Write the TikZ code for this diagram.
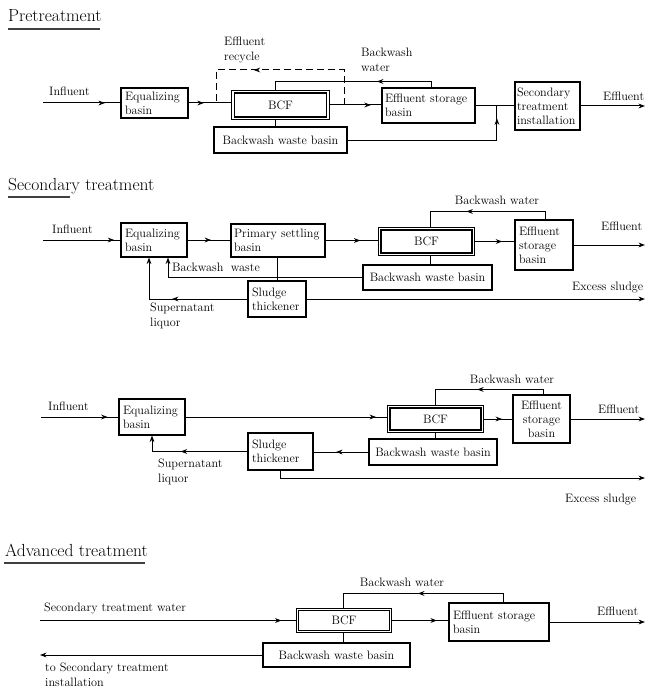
\documentclass[tikz,border=0pt]{standalone}
\usepackage{fontspec}
\usetikzlibrary{arrows.meta,decorations.markings,calc}
\begin{document}
\begin{tikzpicture}[x=1pt,y=-1pt,
  lab1/.style={font=\fontsize{12.2}{14.5}\selectfont, inner sep=0pt},
  labm/.style={lab1, align=left, anchor=north west},
  ttl/.style={font=\fontsize{17.5}{20}\selectfont, inner sep=0pt, anchor=base west},
  box/.style={draw, line width=1.1pt, font=\fontsize{12.2}{14}\selectfont, inner xsep=4pt, inner ysep=2pt},
  lbox/.style={box, align=left},
  bcfbox/.style={draw, double=white, double distance=1.4pt, line width=1.1pt, font=\fontsize{12.2}{14}\selectfont, inner sep=0pt},
  ln/.style={line width=1pt},
  arr/.style={ln, postaction={decorate}, decoration={markings, mark=at position #1 with {\arrow{Stealth[length=6.5pt,width=4.8pt]}}}},
  endarr/.style={ln, -{Stealth[length=6.5pt,width=4.8pt]}},
  uline/.style={line width=1.6pt, black!75},
  dsh/.style={dash pattern=on 7pt off 4pt}
]
\useasboundingbox (0,0) rectangle (648,690);

% ---------------- Pretreatment ----------------
\node[ttl] (t1) at (8,22) {Pretreatment};
\draw[uline] (8,29) -- (100,29);

\node[lbox, text width=59pt, minimum width=67pt, minimum height=30pt] (eq1) at (154.5,103) {Equalizing\\basin};
\node[bcfbox, minimum width=95pt, minimum height=26.5pt] (bcf1) at (280.5,105) {BCF};
\node[box, minimum width=133pt, minimum height=26pt] (bw1) at (280.5,140) {Backwash waste basin};
\node[lbox, inner xsep=3pt, text width=87pt, minimum width=93pt, minimum height=35pt] (st1) at (428.5,105.5) {Effluent storage\\basin};
\node[lbox, inner xsep=2pt, text width=61pt, minimum width=65pt, minimum height=48pt] (sec1) at (547.5,106) {Secondary\\treatment\\installation};

\coordinate (in1) at (43,103);
\draw[arr=0.8] (in1) -- (in1 -| eq1.west);
\draw[arr=0.35] (eq1.east) -- (eq1.east -| bcf1.west);
\coordinate (r1) at (216,103);
\coordinate (r2) at ($(bcf1.east)!0.3!(bcf1.east -| st1.west)$);
\draw[arr=0.64, dsh] (r2) -- ++(0,-35) -| (r1);
\draw[arr=0.35] ($(st1.north)+(2.5,0)$) -- ++(0,-6) -| ($(bcf1.north)+(-5.5,0)$);
\coordinate (c1) at ($(bcf1.south)+(-5.5,0)$);
\draw[ln] (c1) -- (c1 |- bw1.north);
\draw[arr=0.8] (bcf1.east) -- (bcf1.east -| st1.west);
\coordinate (j2) at ($(st1.east)!0.55!(st1.east -| sec1.west)$);
\draw[ln] (st1.east) -- (st1.east -| sec1.west);
\draw[arr=0.93] (bw1.east) -| (j2);
\coordinate (out1) at (645,106);
\draw[endarr] (sec1.east) -- (sec1.east -| out1);

\node[lab1, anchor=base west] (l1a) at (49,96) {Influent};
\node[labm] (l1b) at (224,37) {Effluent\\recycle};
\node[labm] (l1c) at (361,48) {Backwash\\water};
\node[lab1, anchor=base west] (l1d) at (603,101) {Effluent};

% ---------------- Secondary treatment ----------------
\node[ttl] (t2) at (8,190) {Secondary treatment};
\draw[uline] (8,197) -- (70,197);

\node[lbox, text width=58pt, minimum width=66pt, minimum height=34pt] (eq2) at (154,240) {Equalizing\\basin};
\node[lbox, inner xsep=3pt, text width=88pt, minimum width=94pt, minimum height=33pt] (ps2) at (278,240.5) {Primary settling\\basin};
\node[bcfbox, minimum width=93.5pt, minimum height=25.5pt] (bcf2) at (426.5,241.5) {BCF};
\node[box, minimum width=129pt, minimum height=25pt] (bw2) at (427.5,277.5) {Backwash waste basin};
\node[lbox, text width=50pt, minimum width=58pt, minimum height=50pt] (st2) at (544,245) {Effluent\\storage\\basin};
\node[lbox, text width=50pt, minimum width=58pt, minimum height=36pt] (sl2) at (277,299) {Sludge\\thickener};

\coordinate (in2) at (43,240);
\draw[arr=0.92] (in2) -- (in2 -| eq2.west);
\draw[arr=0.55] (eq2.east) -- (eq2.east -| ps2.west);
\draw[arr=0.65] (ps2.east) -- (ps2.east -| bcf2.west);
\draw[arr=0.7] (bcf2.east) -- (bcf2.east -| st2.west);
\draw[arr=0.62] ($(st2.north)+(1,0)$) -- ++(0,-8) -| ($(bcf2.north)+(3.5,0)$);
\coordinate (c2) at ($(bcf2.south)+(3.5,0)$);
\draw[ln] (c2) -- (c2 |- bw2.north);
\draw[endarr] (bw2.west) -| ($(eq2.south)+(14,0)$);
\draw[ln] (ps2.south -| sl2.north) -- (sl2.north);
\draw[arr=0.54, endarr] (sl2.west) -| ($(eq2.south)+(-5,0)$);
\coordinate (out2) at (645,244);
\draw[endarr] (st2.east) -- (st2.east -| out2);
\coordinate (xs2) at (645,299);
\draw[endarr] (sl2.east) -- (sl2.east -| xs2);

\node[lab1, anchor=base west] (l2a) at (52,233) {Influent};
\node[lab1, anchor=base west] (l2b) at (172,271) {Backwash\hspace{0.6em}waste};
\node[labm] (l2c) at (150,303) {Supernatant\\liquor};
\node[lab1, anchor=base] (l2d) at (497,204) {Backwash water};
\node[lab1, anchor=base west] (l2e) at (601,230) {Effluent};
\node[lab1, anchor=base west] (l2f) at (572,290) {Excess sludge};

% ---------------- Secondary treatment (variant) ----------------
\node[lbox, text width=58pt, minimum width=66pt, minimum height=36pt] (eq3) at (152,417) {Equalizing\\basin};
\node[bcfbox, minimum width=93.5pt, minimum height=24.5pt] (bcf3) at (435.5,419) {BCF};
\node[box, minimum width=128pt, minimum height=26pt] (bw3) at (433,452) {Backwash waste basin};
\node[box, align=center, minimum width=57pt, minimum height=48pt] (st3) at (541.5,419) {Effluent\\storage\\basin};
\node[lbox, text width=57pt, minimum width=65pt, minimum height=37pt] (sl3) at (280.5,451.5) {Sludge\\thickener};

\coordinate (in3) at (41,417);
\draw[arr=0.86] (in3) -- (in3 -| eq3.west);
\draw[arr=0.94] (eq3.east) -- (eq3.east -| bcf3.west);
\draw[arr=0.65] (bcf3.east) -- (bcf3.east -| st3.west);
\draw[arr=0.55] ($(st3.north)+(2,0)$) -- ++(0,-5) -| (bcf3.north);
\draw[ln] (bcf3.south) -- (bcf3.south |- bw3.north);
\draw[arr=0.59] (bw3.west) -- (bw3.west -| sl3.east);
\draw[arr=0.6, endarr] (sl3.west) -| (eq3.south);
\coordinate (xs3) at (645,478);
\draw[endarr] (sl3.south) |- (xs3);
\coordinate (out3) at (645,420);
\draw[endarr] (st3.east) -- (st3.east -| out3);

\node[lab1, anchor=base west] (l3a) at (48,410) {Influent};
\node[labm] (l3b) at (158,459) {Supernatant\\liquor};
\node[lab1, anchor=base] (l3c) at (512,383) {Backwash water};
\node[lab1, anchor=base west] (l3d) at (598,413) {Effluent};
\node[lab1, anchor=base west] (l3e) at (565,502) {Excess sludge};

% ---------------- Advanced treatment ----------------
\node[ttl] (t4) at (5,556) {Advanced treatment};
\draw[uline] (4,563) -- (145,563);

\node[bcfbox, minimum width=93pt, minimum height=22pt] (bcf4) at (344,620.5) {BCF};
\node[box, minimum width=147pt, minimum height=24pt] (bw4) at (336.5,655) {Backwash waste basin};
\node[lbox, text width=92pt, minimum width=100pt, minimum height=38pt] (st4) at (499,622) {Effluent storage\\basin};

\coordinate (in4) at (40,620.5);
\draw[arr=0.94] (in4) -- (in4 -| bcf4.west);
\draw[arr=0.8] (bcf4.east) -- (bcf4.east -| st4.west);
\draw[arr=0.51] ($(st4.north)+(4,0)$) -- ++(0,-9) -| ($(bcf4.north)+(-1,0)$);
\coordinate (c4) at ($(bcf4.south)+(-1,0)$);
\draw[ln] (c4) -- (c4 |- bw4.north);
\coordinate (out4) at (645,620.5);
\draw[endarr] (st4.east) -- (st4.east -| out4);
\coordinate (ret4) at (40,655);
\draw[endarr] (bw4.west) -- (ret4);

\node[lab1, anchor=base west] (l4a) at (44,611) {Secondary treatment water};
\node[lab1, anchor=base] (l4b) at (402,586) {Backwash water};
\node[lab1, anchor=base west] (l4c) at (597,615) {Effluent};
\node[labm] (l4d) at (45,663) {to Secondary treatment\\installation};
\end{tikzpicture}
\end{document}
